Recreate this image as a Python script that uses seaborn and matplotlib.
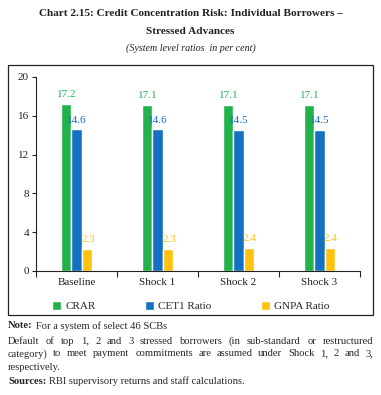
import pandas as pd
import matplotlib.pyplot as plt
import seaborn as sns
from matplotlib.patches import Rectangle

# Data
scenarios = ['Baseline', 'Shock 1', 'Shock 2', 'Shock 3']
crar = [17.2, 17.1, 17.1, 17.1]
cet1 = [14.6, 14.6, 14.5, 14.5]
gnpa = [2.3, 2.3, 2.4, 2.4]
series = ['CRAR', 'CET1 Ratio', 'GNPA Ratio']
colors = ['#21b24b', '#1470c0', '#ffc20e']

df = pd.DataFrame({'scenario': scenarios * 3,
                   'series': [s for s in series for _ in scenarios],
                   'value': crar + cet1 + gnpa})

sns.set_style('ticks')
plt.rcParams['font.family'] = ['Liberation Serif', 'DejaVu Serif']

fig = plt.figure(figsize=(3.81, 3.95), dpi=100)
ax = fig.add_axes([36 / 381, 1 - 271 / 395, 324 / 381, 194 / 395])

bw = 0.4
sns.barplot(data=df, x='scenario', y='value', hue='series', palette=colors,
            saturation=1, width=bw, gap=0.05, ax=ax, legend=True)

# value labels
for i, (s, c) in enumerate(zip(series, colors)):
    vals = df.loc[df['series'] == s, 'value'].tolist()
    for j, v in enumerate(vals):
        ax.annotate(f'{v:.1f}', (j + (i - 1) * bw / 3, v), xytext=(0.5, 3.5),
                    textcoords='offset points', ha='center', va='bottom',
                    color=c, fontsize=8)

ax.set_ylim(0, 20)
ax.set_yticks([0, 4, 8, 12, 16, 20])
ax.set_xlim(-0.5, 3.5)
ax.set_xticks([-0.5, 0.5, 1.5, 2.5, 3.5])
ax.set_xticklabels([])
ax.set_xticks(range(4), minor=True)
ax.set_xticklabels(scenarios, minor=True)
ax.tick_params(axis='x', which='minor', length=0, pad=5, labelsize=8, colors='#222222')
ax.tick_params(axis='x', which='major', length=4, width=0.8)
ax.tick_params(axis='y', length=3, width=0.8, pad=2, labelsize=8, colors='#222222')
ax.set_xlabel('')
ax.set_ylabel('')
for s in ['top', 'right']:
    ax.spines[s].set_visible(False)
for s in ['left', 'bottom']:
    ax.spines[s].set_linewidth(0.8)
    ax.spines[s].set_color('#222222')

ax.legend(loc='upper center', bbox_to_anchor=(0.478, -0.105), ncol=3,
          frameon=False, fontsize=8, handlelength=0.75, handleheight=0.75,
          handletextpad=0.4, columnspacing=4.5)

# frame around the chart
fig.patches.append(Rectangle((8 / 381, 1 - 315 / 395), 365 / 381, 250 / 395,
                             transform=fig.transFigure, fill=False,
                             edgecolor='#222222', linewidth=0.9))

# titles
fig.text(0.5, 1 - 14 / 395, 'Chart 2.15: Credit Concentration Risk: Individual Borrowers \u2013',
         ha='center', va='center', fontsize=8.1, fontweight='bold', color='#222222')
fig.text(0.5, 1 - 31 / 395, 'Stressed Advances', ha='center', va='center',
         fontsize=8.1, fontweight='bold', color='#222222')
fig.text(0.5, 1 - 48 / 395, '(System level ratios  in per cent)', ha='center',
         va='center', fontsize=7.2, style='italic', color='#222222')

# notes
fs = 7.6
x0, x1 = 8, 373
renderer = fig.canvas.get_renderer()


def justified(line, y):
    words = line.split()
    texts = [fig.text(0, 1 - y / 395, w, fontsize=fs, va='center') for w in words]
    widths = [t.get_window_extent(renderer).width for t in texts]
    space = (x1 - x0 - sum(widths)) / (len(words) - 1)
    x = x0
    for t, w in zip(texts, widths):
        t.set_x(x / 381)
        x += w + space


def labelled(label, rest, y):
    t = fig.text(x0 / 381, 1 - y / 395, label, fontsize=fs, fontweight='bold', va='center')
    w = t.get_window_extent(renderer).width
    fig.text((x0 + w + 3) / 381, 1 - y / 395, rest, fontsize=fs, va='center')


labelled('Note:', 'For a system of select 46 SCBs', 326)
justified('Default of top 1, 2 and 3 stressed borrowers (in sub-standard or restructured', 341)
justified('category) to meet payment commitments are assumed under Shock 1, 2 and 3,', 354)
fig.text(x0 / 381, 1 - 368 / 395, 'respectively.', fontsize=fs, va='center')
labelled('Sources:', 'RBI supervisory returns and staff calculations.', 381)

fig.savefig('out.png', dpi=100)
